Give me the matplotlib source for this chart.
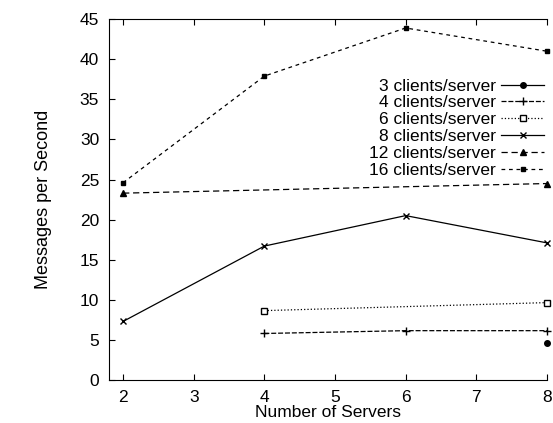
import matplotlib.pyplot as plt
import numpy as np

plt.rcParams['font.family'] = ['Liberation Sans', 'DejaVu Sans']

# servers / messages per second
x3 = [8]
y3 = [4.65]
x4 = [4, 6, 8]
y4 = [5.8, 6.15, 6.15]
x6 = [4, 8]
y6 = [8.65, 9.65]
x8 = [2, 4, 6, 8]
y8 = [7.3, 16.7, 20.5, 17.1]
x12 = [2, 8]
y12 = [23.3, 24.5]
x16 = [2, 4, 6, 8]
y16 = [24.6, 37.9, 43.9, 41.0]

fig = plt.figure(figsize=(5.53, 4.23), dpi=100)
ax = fig.add_axes([0.197, 0.1017, 0.792, 0.853])

kw = dict(color='black', lw=0.9, clip_on=False)
ax.plot(x3, y3, marker='o', ms=4, ls='-', label='3 clients/server', **kw)
ax.plot(x4, y4, marker='+', ms=6, ls=(0, (4, 1.5)), label='4 clients/server', **kw)
ax.plot(x6, y6, marker='s', ms=4.5, mfc='white', ls=':', label='6 clients/server', **kw)
ax.plot(x8, y8, marker='x', ms=5, ls='-', label='8 clients/server', **kw)
ax.plot(x12, y12, marker='^', ms=4.5, ls=(0, (5, 3)), label='12 clients/server', **kw)
ax.plot(x16, y16, marker='s', ms=3.5, ls=(0, (3, 3)), label='16 clients/server', **kw)

ax.set_xlim(1.8, 8.0)
ax.set_ylim(0, 45)
ax.set_xticks(np.arange(2, 9, 1))
ax.set_yticks(np.arange(0, 46, 5))
ax.tick_params(direction='in', top=True, right=False, labelsize=12.5, length=4, pad=7)
ax.tick_params(axis='x', pad=7.5)
ax.spines['right'].set_visible(False)

ax.set_xlabel('Number of Servers', fontsize=12.5, labelpad=0)
ax.set_ylabel('Messages per Second', fontsize=13, labelpad=20)

ax.legend(loc='upper right', bbox_to_anchor=(1.01, 0.855), frameon=False, markerfirst=False,
          fontsize=12.5, handlelength=2.5, handletextpad=0.3, labelspacing=0.1, borderaxespad=0)

plt.savefig('out.png', dpi=100)
